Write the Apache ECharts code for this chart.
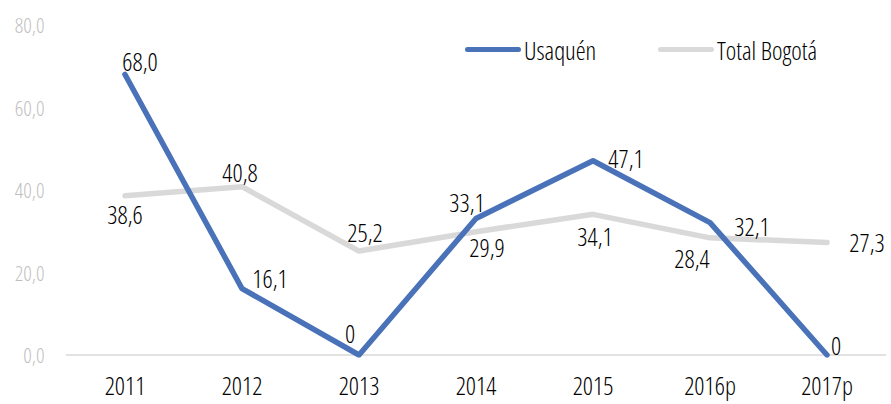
<!DOCTYPE html>
<html lang="es">
<head>
    <meta charset="UTF-8">
    <title>Usaquén vs Total Bogotá</title>
    <script src="https://cdn.jsdelivr.net/npm/echarts@6/dist/echarts.min.js"></script>
    <style>
        html, body { margin: 0; padding: 0; background: #fff; }
        #chart { width: 891px; height: 404px; }
        /* condensed face, close to the original's narrow type */
        #chart text { font-stretch: 75% !important; }
    </style>
</head>
<body>
<div id="chart"></div>
<script>
    // Data
    var years = ['2011', '2012', '2013', '2014', '2015', '2016p', '2017p'];
    var usaquen = [68.0, 16.1, 0, 33.1, 47.1, 32.1, 0];
    var bogota = [38.6, 40.8, 25.2, 29.9, 34.1, 28.4, 27.3];
    var yTicks = [0, 20, 40, 60, 80];

    // label placement (label centre relative to the point, px)
    var usaquenLabelOffsets = [[15, -14], [28, -11], [-9, -22], [-9, -16], [33, -3], [42, 3], [9, -10]];
    var bogotaLabelOffsets = [[0, 18], [-2, -15], [6, -19], [11, 15], [2, 22], [-18, 20], [40, 0]];

    var FONT = '"Open Sans", sans-serif';
    var WEIGHT = 350;
    var BLUE = '#4a72b8';
    var GREY = '#d9d9d9';
    // pill shaped legend marker
    var PILL = 'path://M2.5,0 H53.5 A2.5,2.5 0 0 1 53.5,5 H2.5 A2.5,2.5 0 0 1 2.5,0 Z';

    function fmt(v) {
        return v === 0 ? '0' : v.toFixed(1).replace('.', ',');
    }

    function withLabels(values, offsets) {
        return values.map(function (v, i) {
            return { value: v, label: { offset: offsets[i] } };
        });
    }

    var chart = echarts.init(document.getElementById('chart'), null, { renderer: 'svg' });

    var labelStyle = {
        show: true,
        position: 'inside',
        color: '#000',
        fontFamily: FONT,
        fontWeight: WEIGHT,
        fontSize: 25,
        formatter: function (p) { return fmt(p.value); }
    };

    function legendAt(name, left) {
        return {
            data: [{ name: name, icon: PILL }],
            left: left,
            top: 32,
            itemWidth: 56,
            itemHeight: 5,
            textStyle: { fontFamily: FONT, fontWeight: WEIGHT, fontSize: 25, color: '#000', padding: [0, 0, 0, -2] }
        };
    }

    chart.setOption({
        animation: false,
        grid: { left: 66.5, right: 5.5, top: 25, bottom: 49 },
        legend: [legendAt('Usaquén', 460), legendAt('Total Bogotá', 653)],
        xAxis: {
            type: 'category',
            data: years,
            boundaryGap: true,
            axisLine: { lineStyle: { color: GREY, width: 1.5 } },
            axisTick: { show: false },
            axisLabel: { fontFamily: FONT, fontWeight: WEIGHT, fontSize: 25, color: '#000', margin: 17 }
        },
        yAxis: {
            type: 'value',
            min: yTicks[0],
            max: yTicks[yTicks.length - 1],
            interval: 20,
            splitLine: { show: false },
            axisLine: { show: false },
            axisTick: { show: false },
            axisLabel: {
                fontFamily: FONT, fontWeight: WEIGHT, fontSize: 21, color: '#bfbfbf', margin: 22,
                formatter: function (v) { return v.toFixed(1).replace('.', ','); }
            }
        },
        series: [
            {
                name: 'Total Bogotá',
                type: 'line',
                data: withLabels(bogota, bogotaLabelOffsets),
                symbol: 'circle',
                symbolSize: 1,
                itemStyle: { color: GREY },
                lineStyle: { color: GREY, width: 5.5, cap: 'round', join: 'round' },
                label: labelStyle,
                z: 2
            },
            {
                name: 'Usaquén',
                type: 'line',
                data: withLabels(usaquen, usaquenLabelOffsets),
                symbol: 'circle',
                symbolSize: 1,
                itemStyle: { color: BLUE },
                lineStyle: { color: BLUE, width: 5.5, cap: 'round', join: 'round' },
                label: labelStyle,
                z: 3
            }
        ]
    });
</script>
</body>
</html>
